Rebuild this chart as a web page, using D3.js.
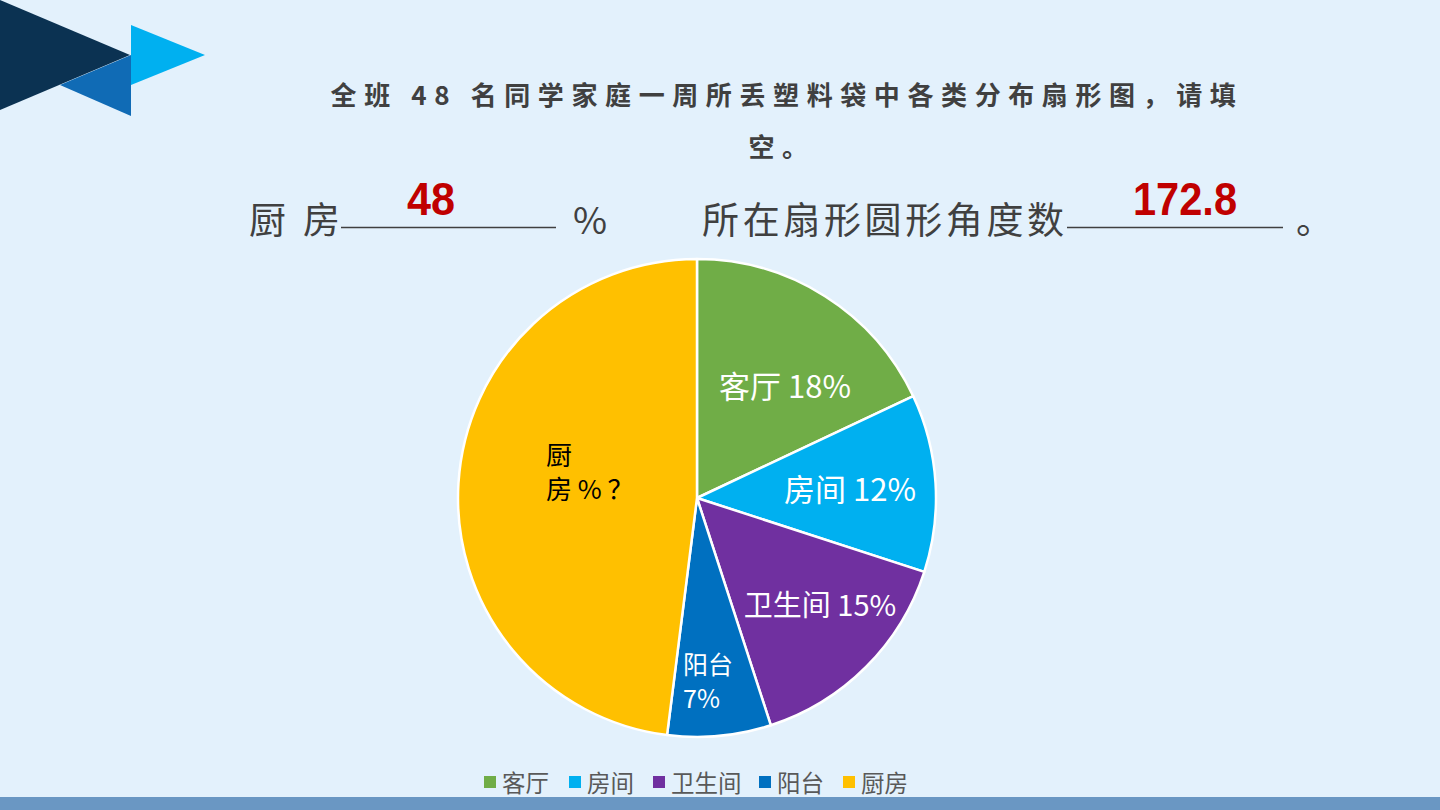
<!DOCTYPE html>
<html>
<head>
<meta charset="utf-8">
<script src="https://cdn.jsdelivr.net/npm/d3@7"></script>
<style>
  body { margin: 0; background: #e3f1fc; }
  svg { display: block; }
</style>
</head>
<body>
<div id="chart"></div>
<script>
const WIDTH = 1440;
const HEIGHT = 810;

const categories = ['客厅', '房间', '卫生间', '阳台', '厨房'];
const values = [18, 12, 15, 7, 48];
const colors = ['#70ad47', '#00b0f0', '#7030a0', '#0070c0', '#ffc000'];
// label lines shown inside each slice
const labelLines = [['客厅 18%'], ['房间 12%'], ['卫生间 15%'], ['阳台', '7%'], ['厨', '房 %  ？']];

const FONT = '"Noto Sans CJK SC", "Microsoft YaHei", sans-serif';

const svg = d3.select('#chart')
  .append('svg')
  .attr('width', WIDTH)
  .attr('height', HEIGHT);

svg.append('rect').attr('width', WIDTH).attr('height', HEIGHT).attr('fill', '#e3f1fc');

// corner decoration
svg.append('path').attr('d', 'M0,0 L130,55 L0,110 Z').attr('fill', '#0b3252');
svg.append('path').attr('d', 'M60,85 L131,55 L131,116 Z').attr('fill', '#106bb5');
svg.append('path').attr('d', 'M131,25 L205,55 L131,85 Z').attr('fill', '#00b0f0');

// bottom band
svg.append('rect').attr('x', 0).attr('y', 797).attr('width', WIDTH).attr('height', 13).attr('fill', '#6a97c3');

// title
const title = svg.append('g')
  .attr('font-family', FONT)
  .attr('font-weight', 'bold')
  .attr('font-size', 26)
  .attr('fill', '#404040')
  .attr('letter-spacing', 7.6)
  .attr('text-anchor', 'middle');
title.append('text').attr('x', 787).attr('y', 105).text('全班 48 名同学家庭一周所丢塑料袋中各类分布扇形图，请填');
title.append('text').attr('x', 782).attr('y', 157).text('空。');

// fill-in line
const fill = svg.append('g').attr('font-family', FONT).attr('font-size', 37).attr('fill', '#404040');
fill.append('text').attr('x', 249).attr('y', 234).attr('textLength', 91).text('厨 房');
fill.append('text').attr('x', 573).attr('y', 234).text('%');
fill.append('text').attr('x', 702).attr('y', 234).attr('textLength', 362).text('所在扇形圆形角度数');
fill.append('text').attr('x', 1296).attr('y', 234).text('。');
fill.append('line').attr('x1', 341).attr('x2', 556).attr('y1', 227.5).attr('y2', 227.5).attr('stroke', '#404040').attr('stroke-width', 1.3);
fill.append('line').attr('x1', 1067).attr('x2', 1283).attr('y1', 227.5).attr('y2', 227.5).attr('stroke', '#404040').attr('stroke-width', 1.3);

const answers = svg.append('g')
  .attr('font-family', '"Liberation Sans Narrow", "Liberation Sans", sans-serif')
  .attr('font-weight', 'bold')
  .attr('font-size', 46)
  .attr('fill', '#c00000');
answers.append('text').attr('x', 407).attr('y', 215)
  .attr('textLength', 48).attr('lengthAdjust', 'spacingAndGlyphs').text('48');
answers.append('text').attr('x', 1133).attr('y', 215)
  .attr('textLength', 104).attr('lengthAdjust', 'spacingAndGlyphs').text('172.8');

// pie
const cx = 697, cy = 498, R = 239;
const pie = d3.pie().sort(null).value(d => d)(values);
const arc = d3.arc().innerRadius(0).outerRadius(R);

const pg = svg.append('g').attr('transform', `translate(${cx},${cy})`);
pg.selectAll('path')
  .data(pie)
  .join('path')
  .attr('d', arc)
  .attr('fill', (d, i) => colors[i])
  .attr('stroke', '#ffffff')
  .attr('stroke-width', 2.5)
  .attr('stroke-linejoin', 'round');

// label anchor points (relative to centre)
const labelPos = [[88, -111], [153, -8], [123, 108], [-14, 184], [-151, -25]];
const labelSize = [31, 31, 29, 25, 26];
const lg = svg.append('g').attr('font-family', FONT);
pie.forEach((d, i) => {
  const x = cx + labelPos[i][0];
  const y = cy + labelPos[i][1];
  const lines = labelLines[i];
  const isKitchen = i === 4;
  const fs = labelSize[i];
  const lh = 34;
  const y0 = y - (lines.length - 1) * lh / 2 + fs * 0.35;
  lines.forEach((ln, k) => {
    lg.append('text')
      .attr('fill', isKitchen ? '#000000' : '#ffffff')
      .attr('font-size', fs)
      .attr('text-anchor', (i === 3 || isKitchen) ? 'start' : 'middle')
      .attr('x', x)
      .attr('y', y0 + k * lh)
      .text(ln);
  });
});

// legend
const legend = svg.append('g').attr('font-family', FONT).attr('font-size', 23.5).attr('fill', '#595959');
const legendX = [484, 569, 653, 759, 843];
categories.forEach((c, i) => {
  legend.append('rect').attr('x', legendX[i]).attr('y', 776).attr('width', 12).attr('height', 12).attr('fill', colors[i]);
  legend.append('text').attr('x', legendX[i] + 18).attr('y', 792).text(c);
});
</script>
</body>
</html>
